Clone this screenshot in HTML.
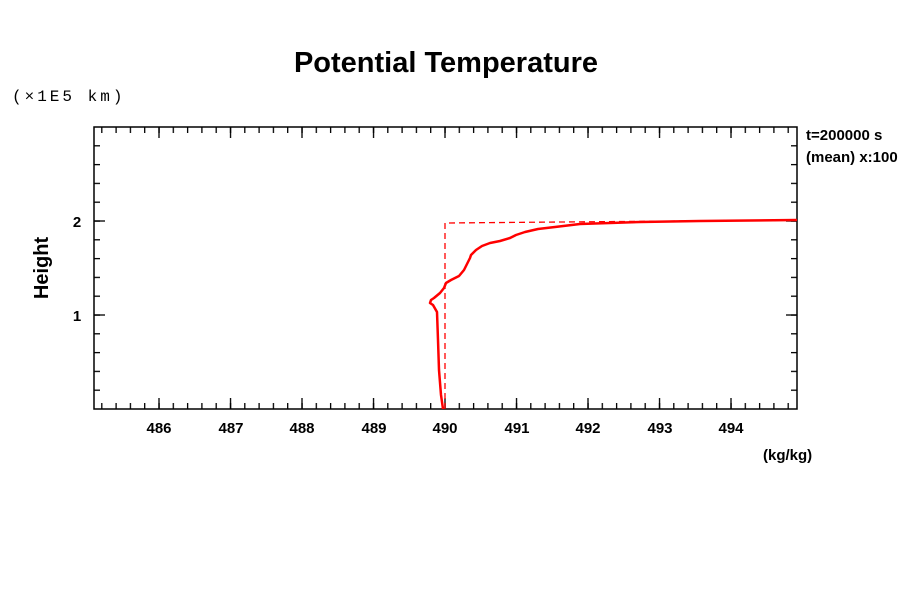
<!DOCTYPE html>
<html><head><style>body{margin:0;background:#fff}svg{display:block}</style></head>
<body>
<svg width="900" height="600" viewBox="0 0 900 600" font-family="Liberation Sans, sans-serif">
<defs>
<pattern id="xmin" patternUnits="userSpaceOnUse" x="101.15" y="0" width="14.3" height="600"><rect x="0" y="0" width="1.3" height="600" fill="#000"/></pattern>
<pattern id="xmaj" patternUnits="userSpaceOnUse" x="158.35" y="0" width="71.5" height="600"><rect x="0" y="0" width="1.3" height="600" fill="#000"/></pattern>
<pattern id="ymin" patternUnits="userSpaceOnUse" x="0" y="126.35" width="900" height="18.8"><rect x="0" y="0" width="900" height="1.3" fill="#000"/></pattern>
<pattern id="ymaj" patternUnits="userSpaceOnUse" x="0" y="220.35" width="900" height="94"><rect x="0" y="0" width="900" height="1.3" fill="#000"/></pattern>
</defs>
<rect width="900" height="600" fill="#fff"/>
<text x="446" y="72" font-size="29" font-weight="bold" text-anchor="middle">Potential Temperature</text>
<text x="12" y="101" font-size="16" style="font-family:'Liberation Mono',monospace;letter-spacing:3px">(×1E5 km)</text>
<text x="806" y="140" font-size="15" font-weight="bold">t=200000 s</text>
<text x="806" y="162" font-size="15" font-weight="bold">(mean) x:100</text>
<text x="48" y="268" font-size="20" font-weight="bold" text-anchor="middle" transform="rotate(-90 48 268)">Height</text>
<text x="763" y="460" font-size="15" font-weight="bold">(kg/kg)</text>
<rect x="94" y="403" width="703" height="6" fill="url(#xmin)"/>
<rect x="94" y="398" width="703" height="11" fill="url(#xmaj)"/>
<rect x="94" y="127" width="703" height="6" fill="url(#xmin)"/>
<rect x="94" y="127" width="703" height="11" fill="url(#xmaj)"/>
<rect x="94" y="130" width="6" height="276" fill="url(#ymin)"/>
<rect x="94" y="130" width="11" height="276" fill="url(#ymaj)"/>
<rect x="791" y="130" width="6" height="276" fill="url(#ymin)"/>
<rect x="786" y="130" width="11" height="276" fill="url(#ymaj)"/>
<rect x="94" y="127" width="703" height="282" fill="none" stroke="#000" stroke-width="1.5"/>
<g font-size="15" font-weight="bold" text-anchor="middle">
<text x="159" y="433">486</text><text x="231" y="433">487</text><text x="302" y="433">488</text><text x="374" y="433">489</text><text x="445" y="433">490</text><text x="517" y="433">491</text><text x="588" y="433">492</text><text x="660" y="433">493</text><text x="731" y="433">494</text>
<text x="77" y="227">2</text><text x="77" y="321">1</text>
</g>
<polyline fill="none" stroke="#f00" stroke-width="1.3" stroke-dasharray="6,4" points="445,409 445,223 797,220"/>
<polyline fill="none" stroke="#f00" stroke-width="2.5" stroke-linejoin="round" points="443,409 441,395 439,370 438,340 437,312 433,305 430,303 431,300 434,298 440,293 444,288 446,283 451,280 459,276 464,270 467,264 470,258 471,255 472,254 476,250 482,246 490,243 500,241 510,238 516,235 525,232 538,229 555,227 580,224 610,223 640,222 700,221 797,220"/>
</svg>
</body></html>
